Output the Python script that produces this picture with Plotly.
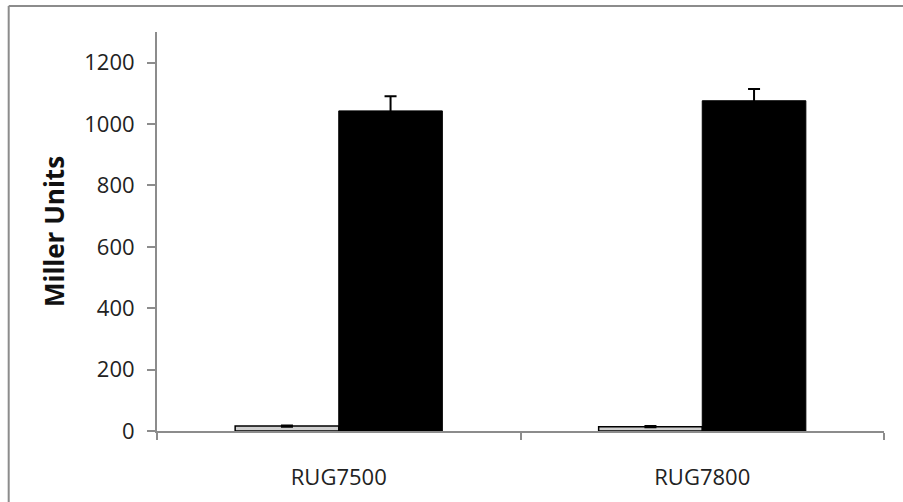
import plotly.graph_objects as go

categories = ["RUG7500", "RUG7800"]
light_values = [16, 14]
light_errors = [2, 2]
dark_values = [1043, 1076]
dark_errors = [48, 38]

fig = go.Figure()
fig.add_trace(go.Bar(
    x=categories, y=light_values,
    marker=dict(color="#cfcfcf", line=dict(color="black", width=1.5)),
    error_y=dict(type="data", array=light_errors, color="black", thickness=2, width=6),
    showlegend=False,
))
fig.add_trace(go.Bar(
    x=categories, y=dark_values,
    marker=dict(color="black", line=dict(color="black", width=1)),
    error_y=dict(type="data", array=dark_errors, color="black", thickness=2, width=6),
    showlegend=False,
))

fig.update_layout(
    width=903, height=502,
    margin=dict(l=157, r=19, t=32, b=71, autoexpand=False),
    paper_bgcolor="white", plot_bgcolor="white",
    barmode="group", bargap=0.43, bargroupgap=0,
    font=dict(family="Open Sans, Liberation Sans, sans-serif", color="#222", size=16),
    xaxis=dict(
        showline=True, linecolor="#8c8c8c", linewidth=2,
        ticks="outside", ticklen=7, tickcolor="#8c8c8c", tickwidth=2,
        tickson="boundaries", tickfont=dict(size=22, color="#222"),
        ticklabelstandoff=26,
        showgrid=False, zeroline=False, automargin=False,
    ),
    yaxis=dict(
        range=[0, 1300], dtick=200, tick0=0,
        showline=True, linecolor="#8c8c8c", linewidth=2,
        ticks="outside", ticklen=8, tickcolor="#8c8c8c", tickwidth=2,
        tickfont=dict(size=22, color="#222"),
        ticklabelstandoff=8,
        showgrid=False, zeroline=False, automargin=False,
        title=dict(text="<b>Miller Units</b>", font=dict(size=26, color="#111"), standoff=12),
    ),
    shapes=[
        dict(type="line", xref="paper", yref="paper", x0=-0.204, x1=1.03, y0=1.065, y1=1.065,
             line=dict(color="#8c8c8c", width=2)),
        dict(type="line", xref="paper", yref="paper", x0=-0.204, x1=-0.204, y0=1.065, y1=-0.2,
             line=dict(color="#8c8c8c", width=2)),
    ],
)

fig.write_html(
    "out.html",
    config={"displayModeBar": False},
    post_script="document.body.style.margin='0';document.body.style.overflow='hidden';",
)
